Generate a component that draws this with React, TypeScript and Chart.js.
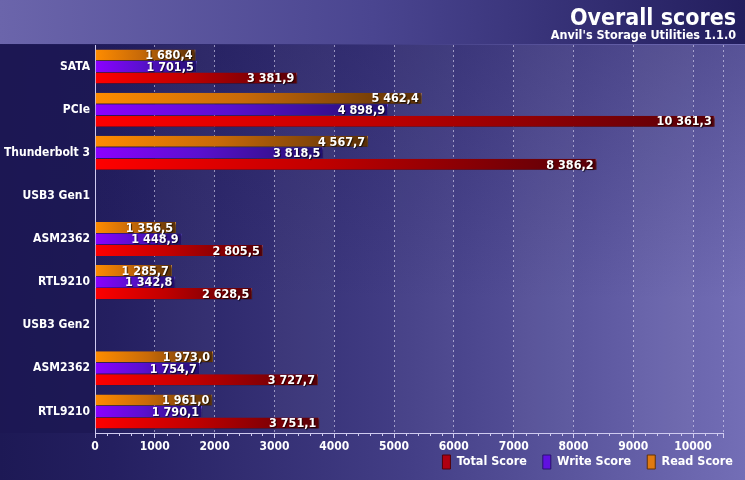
import React, { useEffect, useRef } from 'react';
import { Chart, registerables } from 'chart.js';

Chart.register(...registerables);

const categories = ['SATA', 'PCIe', 'Thunderbolt 3', 'USB3 Gen1', 'ASM2362', 'RTL9210', 'USB3 Gen2', 'ASM2362', 'RTL9210'];
const readScore = [1680.4, 5462.4, 4567.7, null, 1356.5, 1285.7, null, 1973.0, 1961.0];
const writeScore = [1701.5, 4898.9, 3818.5, null, 1448.9, 1342.8, null, 1754.7, 1790.1];
const totalScore = [3381.9, 10361.3, 8386.2, null, 2805.5, 2628.5, null, 3727.7, 3751.1];
const seriesNames = ['Read Score', 'Write Score', 'Total Score'];
const xTickValues = [0, 1000, 2000, 3000, 4000, 5000, 6000, 7000, 8000, 9000, 10000, 10500];
const xMax = 10500;
const xStep = 1000;
const xMinorStep = 200;
const titleText = 'Overall scores';
const subtitleText = "Anvil's Storage Utilities 1.1.0";

const FONT = "'DejaVu Sans Condensed', 'DejaVu Sans', sans-serif";

const fmt = (v: number) => {
  const [i, d] = v.toFixed(1).split('.');
  return i.replace(/\B(?=(\d{3})+(?!\d))/g, ' ') + ',' + d;
};

const barGradient = (from: string, mid: string, to: string) => (c: any) => {
  const chart = c.chart;
  const { ctx, chartArea, scales } = chart;
  if (!chartArea || c.type !== 'data' || c.raw == null || !scales.x) return from;
  const x0 = scales.x.getPixelForValue(0);
  const x1 = scales.x.getPixelForValue(c.raw);
  const g = ctx.createLinearGradient(x0, 0, Math.max(x1, x0 + 1), 0);
  g.addColorStop(0, from);
  g.addColorStop(0.45, mid);
  g.addColorStop(1, to);
  return g;
};

const LEGEND_PAD = 16;

const bgPlugin = {
  id: 'bgPlugin',
  beforeLayout(chart: any) {
    const lg = chart.legend;
    if (lg && !lg.__patched) {
      const orig = lg.fit;
      lg.fit = function () {
        orig.call(this);
        this.height = 18;
      };
      lg.__patched = true;
    }
  },
  afterLayout(chart: any) {
    const lg = chart.legend;
    if (lg) {
      lg.top -= 14;
      lg.height = lg.bottom - lg.top;
      lg.left += 26;
      lg.right += 26;
    }
  },
  beforeDraw(chart: any) {
    const { ctx, width, height, chartArea, scales } = chart;
    ctx.save();
    let g = ctx.createLinearGradient(0, 0, width, 0);
    g.addColorStop(0, '#1d1955');
    g.addColorStop(0.15, '#241f60');
    g.addColorStop(0.55, '#433e86');
    g.addColorStop(1, '#736eb6');
    ctx.fillStyle = g;
    ctx.fillRect(0, 0, width, height);
    g = ctx.createLinearGradient(0, 45, 0, 300);
    g.addColorStop(0, 'rgba(25,20,80,0.3)');
    g.addColorStop(1, 'rgba(25,20,80,0)');
    ctx.fillStyle = g;
    ctx.fillRect(0, 45, width, 255);
    ctx.fillStyle = 'rgba(28,24,84,0.85)';
    ctx.fillRect(0, chartArea.top, chartArea.left, chartArea.bottom - chartArea.top);
    g = ctx.createLinearGradient(0, 0, width, 0);
    g.addColorStop(0, '#6b65ab');
    g.addColorStop(0.5, '#4a4590');
    g.addColorStop(1, '#231e5e');
    ctx.fillStyle = g;
    ctx.fillRect(0, 0, width, chartArea.top - 1);
    const xs = scales.x;
    ctx.fillStyle = 'rgba(255,255,255,0.035)';
    for (let v = xStep; v + xStep <= xMax; v += 2 * xStep) {
      const a = xs.getPixelForValue(v);
      const b = xs.getPixelForValue(v + xStep);
      ctx.fillRect(a, chartArea.top, b - a, chartArea.bottom - chartArea.top);
    }
    ctx.fillStyle = '#ffffff';
    ctx.textAlign = 'right';
    ctx.textBaseline = 'alphabetic';
    ctx.font = `bold 23px ${FONT}`;
    ctx.fillText(titleText, 736, 25);
    ctx.font = `bold 12.5px ${FONT}`;
    ctx.fillText(subtitleText, 736, 39);
    ctx.restore();
  },
  beforeDatasetsDraw(chart: any) {
    const ctx = chart.ctx;
    ctx.save();
    ctx.shadowColor = 'rgba(0,0,0,0.55)';
    ctx.shadowOffsetX = 2;
    ctx.shadowOffsetY = 2;
    ctx.shadowBlur = 2;
  },
  afterDatasetsDraw(chart: any) {
    const ctx = chart.ctx;
    ctx.restore();
    ctx.save();
    ctx.font = `bold 12.5px ${FONT}`;
    ctx.textAlign = 'right';
    ctx.textBaseline = 'middle';
    ctx.fillStyle = '#ffffff';
    ctx.shadowColor = 'rgba(0,0,0,0.7)';
    ctx.shadowOffsetX = 1;
    ctx.shadowOffsetY = 1;
    ctx.shadowBlur = 1;
    chart.data.datasets.forEach((ds: any, di: number) => {
      const meta = chart.getDatasetMeta(di);
      meta.data.forEach((el: any, i: number) => {
        const v = ds.data[i];
        if (v == null) return;
        ctx.fillText(fmt(v), el.x - 3, el.y + 1);
      });
    });
    ctx.restore();
  },
  afterDraw(chart: any) {
    const { ctx, chartArea, scales } = chart;
    const xs = scales.x;
    ctx.save();
    ctx.strokeStyle = '#cfcbf0';
    ctx.lineWidth = 1;
    ctx.beginPath();
    for (let v = 0; v <= xMax; v += xMinorStep) {
      if (v % xStep === 0) continue;
      const x = Math.round(xs.getPixelForValue(v)) + 0.5;
      ctx.moveTo(x, chartArea.bottom);
      ctx.lineTo(x, chartArea.bottom + 3);
    }
    ctx.stroke();
    ctx.restore();
  },
};

export default function App() {
  const ref = useRef<HTMLCanvasElement>(null);
  useEffect(() => {
    if (!ref.current) return;
    const common = {
      borderWidth: { top: 0, bottom: 0, left: 0, right: 1 },
      borderSkipped: false,
      categoryPercentage: 0.8,
      barPercentage: 0.96,
    };
    const chart = new Chart(ref.current, {
      type: 'bar',
      data: {
        labels: categories,
        datasets: [
          { label: seriesNames[0], data: readScore, backgroundColor: barGradient('#ff8c00', '#c86a08', '#5a3008'), borderColor: '#e89a40', ...common },
          { label: seriesNames[1], data: writeScore, backgroundColor: barGradient('#8c00ff', '#5a10d0', '#221070'), borderColor: '#7a5aff', ...common },
          { label: seriesNames[2], data: totalScore, backgroundColor: barGradient('#ff0000', '#c00000', '#580008'), borderColor: '#c84848', ...common },
        ] as any,
      },
      options: {
        indexAxis: 'y',
        responsive: false,
        animation: false,
        layout: { padding: { top: 45, right: 22, bottom: 9, left: 0 } },
        scales: {
          y: {
            grid: { display: false, drawTicks: false },
            border: { display: true, color: '#cfcbf0', width: 1 },
            ticks: { color: '#ffffff', font: { family: FONT, size: 12, weight: 'bold' }, padding: 5 },
            afterFit: (s: any) => { s.width = 95; },
          },
          x: {
            min: 0,
            max: xMax,
            grid: {
              color: 'rgba(235,232,255,0.55)',
              tickColor: '#cfcbf0',
              tickLength: 5,
              drawTicks: true,
            },
            border: { display: true, color: '#cfcbf0', width: 1, dash: [2, 3] },
            afterBuildTicks: (s: any) => { s.ticks = xTickValues.map((value) => ({ value })); },
            afterFit: (s: any) => { s.height = 20; },
            ticks: {
              color: '#ffffff',
              font: { family: FONT, size: 12, weight: 'bold' },
              padding: 2,
              maxRotation: 0,
              autoSkip: false,
              callback: (v: any) => (Number(v) % xStep === 0 ? String(v) : ''),
            },
          },
        },
        plugins: {
          title: { display: false },
          tooltip: { enabled: false },
          legend: {
            display: true,
            position: 'bottom',
            align: 'end',
            labels: {
              color: '#ffffff',
              font: { family: FONT, size: 12.5, weight: 'bold' },
              boxWidth: 8,
              boxHeight: 14,
              padding: LEGEND_PAD,
              generateLabels: () => [
                { text: seriesNames[2], fillStyle: '#b00010', strokeStyle: '#500008', lineWidth: 1, datasetIndex: 2, fontColor: '#ffffff' },
                { text: seriesNames[1], fillStyle: '#6010e0', strokeStyle: '#281070', lineWidth: 1, datasetIndex: 1, fontColor: '#ffffff' },
                { text: seriesNames[0], fillStyle: '#e07a10', strokeStyle: '#603008', lineWidth: 1, datasetIndex: 0, fontColor: '#ffffff' },
              ] as any,
            },
          },
        },
      } as any,
      plugins: [bgPlugin],
    });
    return () => chart.destroy();
  }, []);
  return (
    <div style={{ position: 'absolute', left: 0, top: 0, width: 745, height: 480 }}>
      <canvas ref={ref} width={745} height={480} style={{ display: 'block' }} />
    </div>
  );
}
